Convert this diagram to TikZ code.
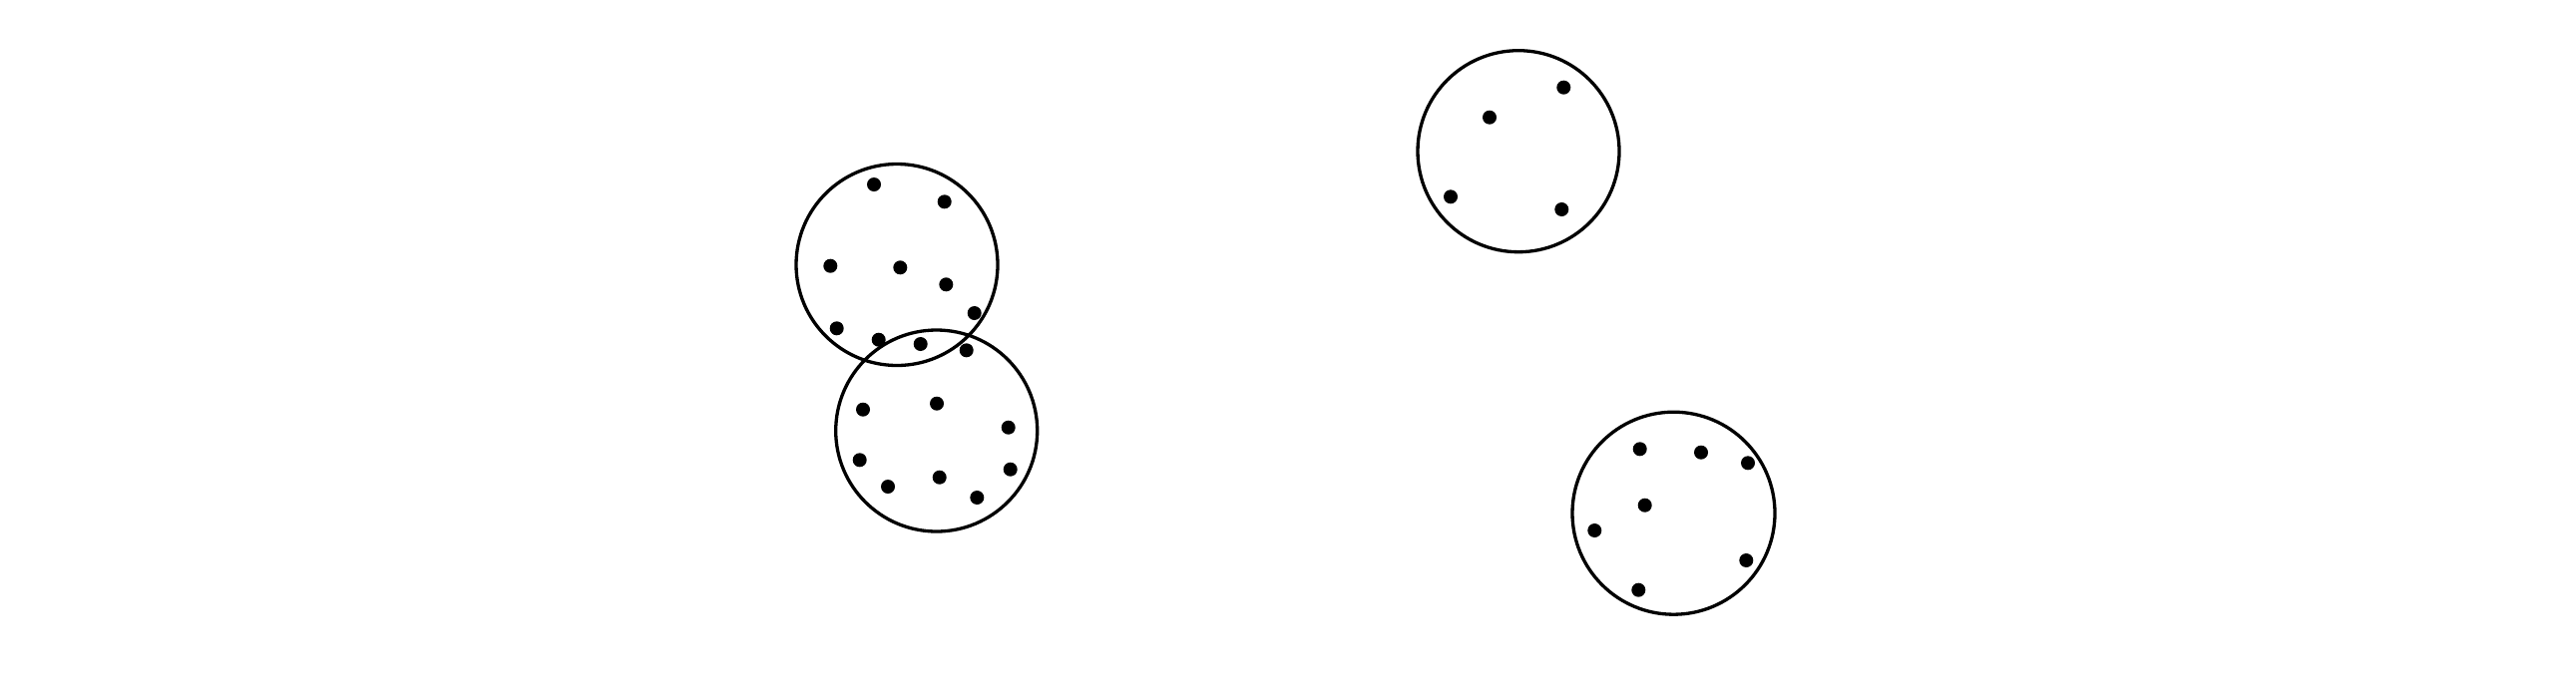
\documentclass[tikz,border=0pt]{standalone}
\begin{document}
\begin{tikzpicture}[x=1pt,y=-1pt,
  ring/.style={draw=black,line width=3.3pt},
  dot/.style={fill=black}]
\useasboundingbox (0,0) rectangle (2582,694);
% circles
\draw[ring] (899,265.5) circle[radius=101];
\draw[ring] (938.7,432) circle[radius=101];
\draw[ring] (1522,151.7) circle[radius=101];
\draw[ring] (1677.5,514.7) circle[radius=101.5];
% dots
\foreach \p in {(876,185),(946.7,202.3),(832.3,266.7),(902.3,268.3),(948.3,285.3),(976.7,314),(838.7,329.3),(880.7,340.7),(922.7,345),(968.7,351.3),
(865,410.7),(939,404.7),(1010.7,428.7),(861.7,461.3),(1012.7,470.7),(890,488),(941.7,478.7),(979.3,499),
(1567.3,87.7),(1493,117.7),(1454,197.3),(1565.3,210),
(1643.7,450.3),(1705,453.7),(1752,464.3),(1648.7,506.7),(1598.3,532),(1750.3,562),(1642.3,591.7)}
  \fill[dot] \p circle[radius=7];
\end{tikzpicture}
\end{document}
